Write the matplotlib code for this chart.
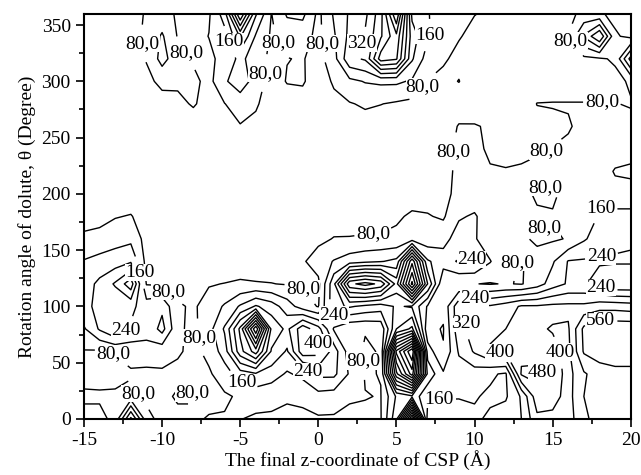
import numpy as np
import matplotlib
matplotlib.use("Agg")
import matplotlib.pyplot as plt
from matplotlib.ticker import MultipleLocator

plt.rcParams['font.family'] = ['Liberation Serif', 'DejaVu Serif']
plt.rcParams['axes.unicode_minus'] = False

# grid coordinates
z_coord = list(range(-15, 21))          # final z-coordinate of CSP (A)
theta = list(range(0, 361, 20))         # rotation angle (degree)

# values, one row per theta (0..360), columns x=-15..20
row_000 = [60,60,100,420,110,50,60,70,85,85,82,70,70,60,60,70,70,60,70,75,300,1000,120,90,120,150,170,200,240,380,380,360,470,500,500,500]
row_020 = [90,90,90,110,60,60,90,85,60,70,90,110,100,90,100,130,120,90,82,78,250,300,170,170,165,165,150,150,250,450,430,370,480,510,510,510]
row_040 = [60,55,60,70,50,70,60,50,70,120,200,230,200,150,180,260,260,150,75,82,700,1000,300,170,200,200,170,150,490,500,450,370,470,520,540,540]
row_060 = [75,70,85,110,150,110,90,60,100,200,450,600,310,230,450,430,280,120,70,85,900,1200,200,85,250,330,410,420,460,450,420,380,570,600,600,600]
row_080 = [150,250,330,230,170,270,95,60,130,250,500,950,380,300,450,350,150,90,85,100,400,500,100,75,300,350,380,400,410,410,395,390,580,620,620,620]
row_100 = [230,250,250,260,200,220,90,70,110,170,250,330,280,200,120,75,300,330,300,280,330,310,150,100,300,330,330,360,410,410,420,420,420,450,450,440]
row_120 = [200,260,330,450,75,70,50,70,75,82,90,85,82,75,70,60,300,700,750,700,450,900,400,82,85,82,75,85,75,120,200,250,250,200,165,165]
row_140 = [165,185,200,230,55,40,30,30,30,30,40,40,40,50,70,120,165,200,220,235,260,700,250,200,250,245,165,85,78,90,150,245,250,250,250,250]
row_160 = [100,110,130,140,50,30,30,30,30,30,30,30,30,30,40,60,84,85,90,90,95,120,110,130,200,170,100,90,85,75,70,85,150,200,220,230]
row_180 = [40,50,75,85,40,30,30,30,30,30,30,30,30,30,30,30,40,40,40,50,70,90,85,70,150,170,110,100,90,90,85,90,100,170,170,170]
row_200 = [30,30,30,30,30,30,30,30,30,30,30,30,30,30,30,30,30,30,30,30,40,50,50,60,100,110,100,95,100,70,70,100,130,140,140,140]
row_220 = [30,30,30,30,30,30,30,30,30,30,30,30,30,30,30,30,30,30,30,30,30,30,30,50,100,100,85,85,90,100,110,110,120,130,165,170]
row_240 = [30,30,30,30,30,30,30,30,30,30,30,30,30,30,30,30,30,30,30,30,30,30,30,60,92,95,70,55,60,70,82,90,110,120,130,140]
row_260 = [30,30,30,30,30,30,30,40,40,60,75,60,30,30,30,30,30,40,50,40,30,30,30,40,85,86,70,50,50,55,65,75,95,100,100,100]
row_280 = [30,30,30,30,40,50,60,88,50,78,120,90,40,40,50,40,60,75,90,82,70,60,40,30,40,30,30,30,30,82,84,84,84,84,82,75]
row_300 = [30,30,30,40,60,100,95,100,55,150,200,130,40,85,88,40,90,140,165,175,175,150,78,60,82,40,30,30,30,30,30,30,30,40,60,90]
row_320 = [30,30,30,40,85,190,110,70,60,110,180,120,60,78,85,50,130,300,330,600,570,250,120,90,60,40,40,40,40,40,40,50,60,70,90,350]
row_340 = [30,30,30,40,100,170,75,50,82,130,330,150,70,110,110,60,150,260,330,470,620,280,170,110,85,60,50,40,40,40,40,82,250,400,90,60]
row_360 = [30,30,30,40,90,110,70,40,70,200,650,250,78,170,180,60,170,250,300,450,800,220,165,120,90,82,70,50,40,40,40,60,100,90,60,40]

rows = [row_000, row_020, row_040, row_060, row_080, row_100, row_120, row_140,
        row_160, row_180, row_200, row_220, row_240, row_260, row_280, row_300,
        row_320, row_340, row_360]

levels = list(range(80, 1281, 80))
label_levels = [80, 160, 240, 320, 400, 480, 560]
label_text = {80: '80,0', 160: '160', 240: '240', 320: '320', 400: '400', 480: '480', 560: '560'}

Z = np.array(rows, dtype=float)
X, Y = np.meshgrid(np.array(z_coord, dtype=float), np.array(theta, dtype=float))
AX_RECT = [0.131, 0.118, 0.853, 0.853]


def setup(ax):
    ax.set_xlim(-15, 20)
    ax.set_ylim(0, 360)


def resample(pts, step):
    d = np.hypot(*np.diff(pts, axis=0).T)
    s = np.concatenate([[0.0], np.cumsum(d)])
    if s[-1] <= 0:
        return pts[:1], s[:1]
    n = int(s[-1] // step) + 2
    ss = np.linspace(0.0, s[-1], n)
    return np.column_stack([np.interp(ss, s, pts[:, 0]), np.interp(ss, s, pts[:, 1])]), ss


# pass 1: choose label spots along the contours (Origin-like spacing)
f0 = plt.figure(figsize=(6.41, 4.75), dpi=100)
a0 = f0.add_axes(AX_RECT)
setup(a0)
c0 = a0.contour(X, Y, Z, levels=levels, colors='black', linewidths=1.0)
setup(a0)
f0.canvas.draw()
rend = f0.canvas.get_renderer()
tw = {}
for lv in label_levels:
    tt = a0.text(0, 0, label_text[lv], fontsize=14)
    bb = tt.get_window_extent(rend)
    tw[lv] = (bb.width, bb.height * 0.72)
    tt.remove()
axbb = a0.get_window_extent(rend)
trans = a0.transData

all_pts, all_ids = [], []
segs_px = []
sid = 0
for li, lv in enumerate(c0.levels):
    for seg in c0.allsegs[li]:
        if len(seg) < 2:
            continue
        p = trans.transform(seg)
        rp, _ = resample(p, 2.0)
        all_pts.append(rp)
        all_ids.append(np.full(len(rp), sid))
        segs_px.append((lv, p, sid))
        sid += 1
all_pts = np.vstack(all_pts)
all_ids = np.concatenate(all_ids)

kept, spots = [], []
for pass_limit in (6, 30):
    for lv in label_levels:
        w, h = tw[lv]
        for (slv, p, s_id) in segs_px:
            if slv != lv:
                continue
            rp, ss = resample(p, 2.0)
            L = ss[-1]
            if L < w * 1.2:
                continue
            targets = np.arange(min(30.0, L / 2), L, 150.0)
            for tgt in targets:
                k = int(np.argmin(np.abs(ss - tgt)))
                cx, cy = rp[k]
                box = (cx - w / 2 - 2, cx + w / 2 + 2, cy - h / 2 - 2, cy + h / 2 + 2)
                if box[0] < axbb.x0 + 1 or box[1] > axbb.x1 - 1 or box[2] < axbb.y0 + 1 or box[3] > axbb.y1 - 1:
                    continue
                if any(not (box[1] < b[0] or box[0] > b[1] or box[3] < b[2] or box[2] > b[3]) for b in kept):
                    continue
                inside = ((all_pts[:, 0] > box[0]) & (all_pts[:, 0] < box[1]) &
                          (all_pts[:, 1] > box[2]) & (all_pts[:, 1] < box[3]) & (all_ids != s_id))
                if inside.sum() > pass_limit:
                    continue
                kept.append((box[0] - 3, box[1] + 3, box[2] - 2, box[3] + 2))
                spots.append(tuple(trans.inverted().transform((cx, cy))))
plt.close(f0)

# final figure
fig = plt.figure(figsize=(6.41, 4.75), dpi=100)
ax = fig.add_axes(AX_RECT)
setup(ax)
cs = ax.contour(X, Y, Z, levels=levels, colors='black', linewidths=1.0)
setup(ax)
labs = ax.clabel(cs, levels=label_levels, fmt=label_text, fontsize=14,
                 inline=True, inline_spacing=2, manual=spots)
for t in labs:
    t.set_rotation(0)
    t.set_bbox(dict(facecolor='white', edgecolor='none', pad=0.1))

ax.xaxis.set_major_locator(MultipleLocator(5))
ax.xaxis.set_minor_locator(MultipleLocator(2.5))
ax.yaxis.set_major_locator(MultipleLocator(50))
ax.yaxis.set_minor_locator(MultipleLocator(25))
ax.tick_params(which='both', direction='out', top=False, right=False, labelsize=14, width=1.2)
ax.tick_params(which='major', length=6)
ax.tick_params(which='minor', length=3.5)
for s in ax.spines.values():
    s.set_linewidth(1.5)
    s.set_zorder(5)

ax.set_xlabel('The final z-coordinate of CSP (Å)', fontsize=14, labelpad=1)
ax.set_ylabel('Rotation angle of dolute, θ (Degree)', fontsize=14, labelpad=4)

fig.savefig('out.png', dpi=100)
